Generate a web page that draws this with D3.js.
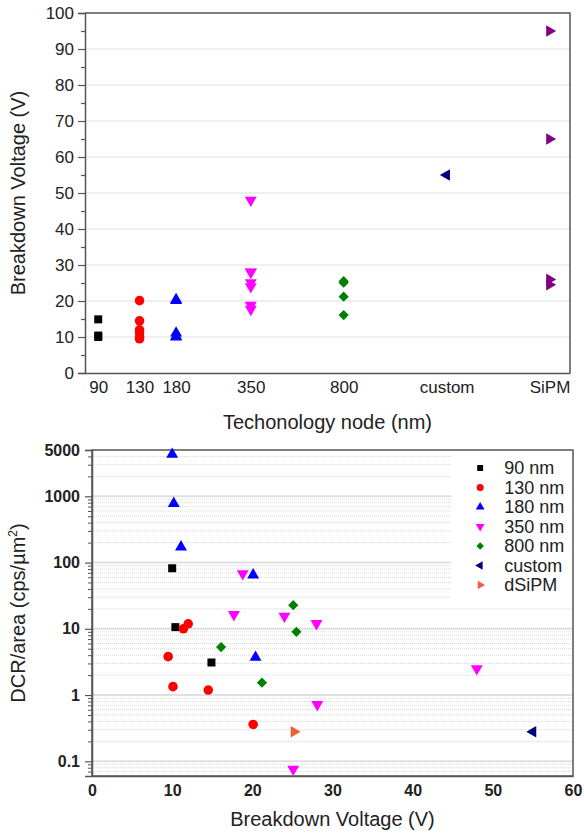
<!DOCTYPE html>
<html>
<head>
<meta charset="utf-8">
<script src="https://cdn.jsdelivr.net/npm/d3@7"></script>
<style>
  body { margin: 0; background: #fff; }
  text { font-family: "Liberation Sans", Arial, sans-serif; fill: #222; }
</style>
</head>
<body>
<div id="chart"></div>
<script>
// Top panel: breakdown voltage per technology node
const nodeLabels = ["90", "130", "180", "350", "800", "custom", "SiPM"];
const nodePos = [90, 130, 180, 350, 800, 2000, 5000];   // position on log axis
const voltageTicks = [0, 10, 20, 30, 40, 50, 60, 70, 80, 90, 100];

// Bottom panel: breakdown voltage (V) and DCR/area (cps/µm²)
const seriesNames = ["90 nm", "130 nm", "180 nm", "350 nm", "800 nm", "custom", "dSiPM"];
const bv90 = [10.0, 10.4, 14.9];
const dcr90 = [82, 10.6, 3.1];
const bv130 = [11.4, 12.0, 9.5, 10.1, 14.5, 20.1];
const dcr130 = [10, 11.9, 3.8, 1.34, 1.19, 0.36];
const bv180 = [10.0, 10.2, 11.1, 20.1, 20.4];
const dcr180 = [4300, 780, 172, 65, 3.7];
const bv350 = [18.8, 17.7, 24.0, 28.0, 48.0, 28.1, 25.1];
const dcr350 = [68, 16.4, 15.5, 12, 2.5, 0.72, 0.076];
const bv800 = [25.1, 25.5, 16.1, 21.2];
const dcr800 = [22.7, 9.0, 5.3, 1.54];
const bvCustom = [55];
const dcrCustom = [0.28];
const bvDSiPM = [25.2];
const dcrDSiPM = [0.28];
const bvSiPM = [95, 65, 26, 24.5];   // only in the top panel

const dcrTicks = [0.1, 1, 10, 100, 1000, 5000];
const bvTicks = [0, 10, 20, 30, 40, 50, 60];

const colors = ["#000000", "#ff0000", "#0000ff", "#ff00ff", "#008000", "#000080", "#ee5f3c"];
const sipmColor = "#800080";
// shape + rotation per series
const shapes = [
  [d3.symbolSquare, 0, 64],
  [d3.symbolCircle, 0, 72],
  [d3.symbolTriangle, 0, 62],
  [d3.symbolTriangle, 180, 62],
  [d3.symbolSquare, 45, 52],
  [d3.symbolTriangle, -90, 58],
  [d3.symbolTriangle, 90, 58]
];

const W = 584, H = 833;
const svg = d3.select("#chart").append("svg")
  .attr("width", W).attr("height", H);

const axisColor = "#555";
const gridColor = "#e0e0e0";
const tickFont = "17px";
const titleFont = "20px";

function marker(g, shapeIdx, color, x, y, scale) {
  const [type, rot, size] = shapeIdx === "sipm" ? [d3.symbolTriangle, 90, 58] : shapes[shapeIdx];
  g.append("path")
    .attr("d", d3.symbol().type(type).size(size * (scale || 1))())
    .attr("transform", `translate(${x},${y}) rotate(${rot})`)
    .attr("fill", color);
}

// ---------- Top panel ----------
{
  const m = { left: 85, top: 13, width: 485, height: 360 };
  const g = svg.append("g").attr("transform", `translate(${m.left},${m.top})`);
  const x = d3.scaleLog().domain([80, 6000]).range([0, m.width]);
  const y = d3.scaleLinear().domain([0, 100]).range([m.height, 0]);

  // gridlines
  g.selectAll(".grid").data(voltageTicks.filter(v => v > 0 && v < 100))
    .enter().append("line")
    .attr("x1", 0).attr("x2", m.width)
    .attr("y1", d => y(d)).attr("y2", d => y(d))
    .attr("stroke", gridColor).attr("stroke-width", 1.2);

  // frame (top/right)
  g.append("path")
    .attr("d", `M0,0H${m.width}V${m.height}`)
    .attr("fill", "none").attr("stroke", axisColor).attr("stroke-width", 1.5);

  // y axis
  const yAxis = g.append("g")
    .call(d3.axisLeft(y).tickValues(voltageTicks).tickSize(7).tickPadding(4));
  yAxis.select(".domain").attr("stroke", axisColor).attr("stroke-width", 1.5);
  yAxis.selectAll(".tick line").attr("stroke", axisColor).attr("stroke-width", 1.2);
  yAxis.selectAll("text").style("font-size", tickFont).attr("fill", "#222");
  const yMinor = g.append("g")
    .call(d3.axisLeft(y).tickValues(d3.range(5, 100, 10)).tickSize(4).tickFormat(""));
  yMinor.select(".domain").remove();
  yMinor.selectAll(".tick line").attr("stroke", axisColor).attr("stroke-width", 1.2);

  // x axis
  const xAxis = g.append("g").attr("transform", `translate(0,${m.height})`)
    .call(d3.axisBottom(x).tickValues(nodePos).tickSize(0).tickPadding(8)
      .tickFormat((d, i) => nodeLabels[i]));
  xAxis.select(".domain").attr("stroke", axisColor).attr("stroke-width", 1.5);
  xAxis.selectAll("text").style("font-size", tickFont).attr("fill", "#222");

  // points
  const nodeSeries = [
    [nodePos[0], bv90, 0, colors[0]],
    [nodePos[1], bv130, 1, colors[1]],
    [nodePos[2], bv180, 2, colors[2]],
    [nodePos[3], bv350, 3, colors[3]],
    [nodePos[4], bv800, 4, colors[4]],
    [nodePos[5], bvCustom, 5, colors[5]],
    [nodePos[6], bvSiPM, "sipm", sipmColor]
  ];
  nodeSeries.forEach(([nx, vals, s, c]) => {
    vals.forEach(v => marker(g, s, c, x(nx), y(v)));
  });

  // titles
  svg.append("text")
    .attr("transform", `translate(25,${m.top + m.height / 2}) rotate(-90)`)
    .attr("text-anchor", "middle")
    .style("font-size", titleFont)
    .text("Breakdown Voltage (V)");
  svg.append("text")
    .attr("x", m.left + m.width / 2).attr("y", 429)
    .attr("text-anchor", "middle")
    .style("font-size", titleFont)
    .text("Techonology node (nm)");
}

// ---------- Bottom panel ----------
{
  const m = { left: 92, top: 450, width: 481, height: 326 };
  const g = svg.append("g").attr("transform", `translate(${m.left},${m.top})`);
  const x = d3.scaleLinear().domain([0, 60]).range([0, m.width]);
  const y = d3.scaleLog().domain([0.06, 5000]).range([m.height, 0]);

  const minorVals = [];
  [0.01, 0.1, 1, 10, 100, 1000].forEach(dec => {
    for (let k = 2; k <= 9; k++) {
      const v = dec * k;
      if (v > 0.06 && v < 5000) minorVals.push(v);
    }
  });
  const majorVals = [0.1, 1, 10, 100, 1000];

  g.selectAll(".mgrid").data(minorVals).enter().append("line")
    .attr("x1", 0).attr("x2", m.width)
    .attr("y1", d => y(d)).attr("y2", d => y(d))
    .attr("stroke", "#d8d8d8").attr("stroke-width", 1)
    .attr("stroke-dasharray", "1,1");
  g.selectAll(".Mgrid").data(majorVals).enter().append("line")
    .attr("x1", 0).attr("x2", m.width)
    .attr("y1", d => y(d)).attr("y2", d => y(d))
    .attr("stroke", gridColor).attr("stroke-width", 2);

  // legend background hides gridlines
  const lg = g.append("g").attr("transform", `translate(${x(44.8)},0)`);
  lg.append("rect")
    .attr("x", 0).attr("y", 0)
    .attr("width", m.width - x(44.8)).attr("height", 152)
    .attr("fill", "#fff");

  // frame
  g.append("rect")
    .attr("width", m.width).attr("height", m.height)
    .attr("fill", "none").attr("stroke", axisColor).attr("stroke-width", 1.5);

  // y axis
  const yAxis = g.append("g")
    .call(d3.axisLeft(y).tickValues(dcrTicks).tickSize(7).tickPadding(5)
      .tickFormat(d => String(d)));
  yAxis.select(".domain").attr("stroke", axisColor).attr("stroke-width", 1.5);
  yAxis.selectAll(".tick line").attr("stroke", axisColor).attr("stroke-width", 1.2);
  yAxis.selectAll("text").style("font-size", "16px").style("font-weight", "bold").attr("fill", "#333");
  const yMinor = g.append("g")
    .call(d3.axisLeft(y).tickValues(minorVals).tickSize(4).tickFormat(""));
  yMinor.select(".domain").remove();
  yMinor.selectAll(".tick line").attr("stroke", axisColor).attr("stroke-width", 1);

  // x axis
  const xAxis = g.append("g").attr("transform", `translate(0,${m.height})`)
    .call(d3.axisBottom(x).tickValues(bvTicks).tickSize(0).tickPadding(9));
  xAxis.select(".domain").attr("stroke", axisColor).attr("stroke-width", 1.5);
  xAxis.selectAll("text").style("font-size", "16px").style("font-weight", "bold").attr("fill", "#333");

  const series = [
    [bv90, dcr90], [bv130, dcr130], [bv180, dcr180], [bv350, dcr350],
    [bv800, dcr800], [bvCustom, dcrCustom], [bvDSiPM, dcrDSiPM]
  ];
  series.forEach(([xs, ys], s) => {
    xs.forEach((v, i) => marker(g, s, colors[s], x(v), y(ys[i])));
  });

  // legend
  seriesNames.forEach((name, i) => {
    const cy = 18 + i * 19.5;
    marker(lg, i, colors[i], 29, cy, 0.55);
    lg.append("text")
      .attr("x", 53).attr("y", cy)
      .attr("dy", "0.36em")
      .style("font-size", "18px")
      .text(name);
  });

  // titles
  svg.append("text")
    .attr("transform", `translate(25,${m.top + m.height / 2}) rotate(-90)`)
    .attr("text-anchor", "middle")
    .style("font-size", titleFont)
    .html("DCR/area (cps/µm<tspan dy='-8' font-size='12px'>2</tspan><tspan dy='8'>)</tspan>");
  svg.append("text")
    .attr("x", m.left + m.width / 2).attr("y", 826)
    .attr("text-anchor", "middle")
    .style("font-size", titleFont)
    .text("Breakdown Voltage (V)");
}
</script>
</body>
</html>
